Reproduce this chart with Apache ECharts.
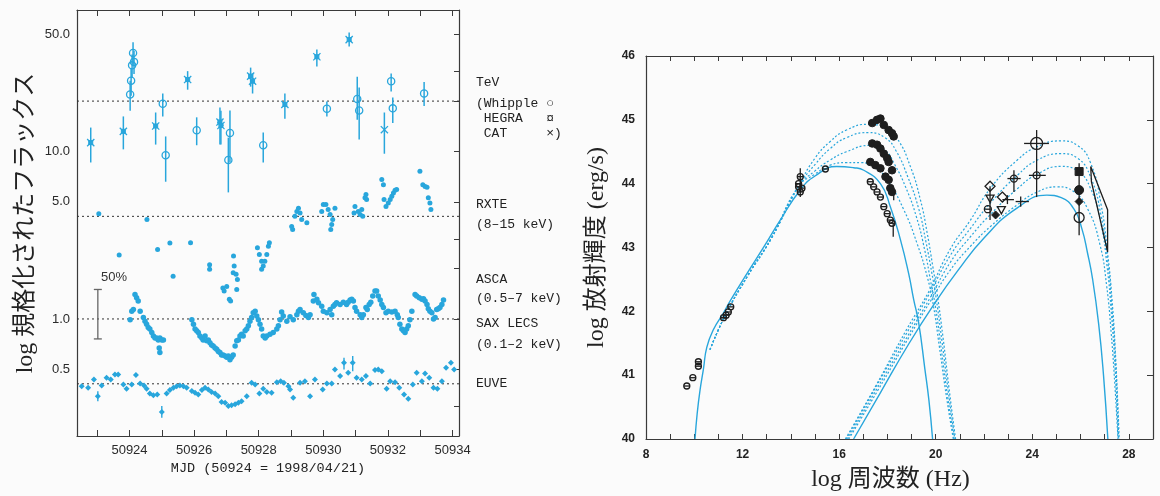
<!DOCTYPE html>
<html>
<head>
<meta charset="utf-8">
<script src="https://cdn.jsdelivr.net/npm/echarts@6.0.0/dist/echarts.min.js"></script>
<style>
  html, body { margin: 0; padding: 0; background: #fbfbfb; }
  #container { width: 1160px; height: 496px; }
</style>
</head>
<body>
<div id="container"></div>
<script>
// ===== left panel: light curves, MJD vs normalized flux (log) =====
var mjdLabels = [50924, 50926, 50928, 50930, 50932, 50934];
var mjdTicks = [50923, 50924, 50925, 50926, 50927, 50928, 50929, 50930, 50931, 50932, 50933, 50934];
var fluxLabels = [0.5, 1, 5, 10, 50];
var fluxTicks = [0.3, 0.5, 1, 2, 3, 5, 10, 20, 30, 50];
var refLevels = [20, 4.1, 1.0, 0.41];

// [MJD, flux, low, high]
var whipple = [
  [50924.02, 21.9, 17.5, 26.5], [50924.05, 26.5, 21.5, 31.5], [50924.08, 32.7, 27.5, 38.0],
  [50924.11, 38.8, 33.0, 45.0], [50924.14, 34.3, 29.0, 40.0], [50925.03, 19.3, 16.2, 22.2],
  [50925.12, 9.5, 6.6, 12.3], [50926.08, 13.4, 10.9, 16.0], [50927.06, 8.9, 5.7, 12.1],
  [50927.11, 12.9, 8.6, 17.6], [50928.14, 10.9, 8.6, 13.0], [50930.11, 18.0, 16.2, 19.9],
  [50931.05, 20.6, 15.5, 28.0], [50931.11, 17.6, 11.8, 24.1], [50932.10, 26.3, 22.8, 29.2],
  [50932.15, 18.1, 14.8, 21.0], [50933.12, 22.2, 18.7, 26.0]
];
var hegra = [
  [50922.80, 11.3, 8.6, 13.9], [50923.81, 13.2, 10.3, 16.2], [50924.81, 14.2, 11.0, 17.1],
  [50925.80, 26.9, 23.4, 30.2], [50926.80, 15.0, 11.0, 18.3], [50926.83, 14.3, 11.0, 17.5],
  [50927.75, 28.2, 24.4, 31.7], [50927.81, 26.3, 22.2, 29.2], [50928.81, 19.1, 15.7, 22.2],
  [50929.80, 36.8, 32.2, 40.6], [50930.80, 46.6, 42.4, 51.3]
];
var cat = [
  [50931.89, 13.5, 9.7, 17.1]
];

// [MJD, flux]
var rxte = [
  [50923.05, 4.25], [50924.54, 3.93], [50923.68, 2.41], [50924.87, 2.60], [50925.25, 2.84],
  [50925.89, 2.85], [50925.35, 1.80], [50926.48, 2.11], [50926.48, 1.98], [50926.89, 1.53],
  [50926.93, 1.47], [50927.01, 1.56], [50927.09, 1.31], [50927.13, 1.28], [50927.21, 1.89],
  [50927.24, 2.07], [50927.22, 2.38], [50927.30, 1.85], [50927.34, 1.72], [50927.32, 1.50],
  [50927.96, 2.66], [50928.02, 2.43], [50928.09, 2.21], [50928.09, 1.98], [50928.14, 2.07],
  [50928.19, 2.21], [50928.25, 2.43], [50928.30, 2.72], [50928.33, 2.85], [50929.05, 3.42],
  [50929.02, 3.57], [50929.12, 4.10], [50929.18, 4.38], [50929.23, 4.58], [50929.28, 4.29],
  [50929.33, 3.93], [50929.49, 3.76], [50929.95, 4.38], [50930.00, 4.82], [50930.08, 4.82],
  [50930.15, 4.50], [50930.21, 4.20], [50930.29, 3.93], [50930.26, 3.67], [50930.23, 3.42],
  [50930.36, 4.58], [50930.98, 4.69], [50930.95, 4.29], [50931.08, 4.38], [50931.14, 4.20],
  [50931.22, 4.10], [50931.19, 4.50], [50931.29, 5.29], [50931.32, 5.53], [50931.34, 5.17],
  [50931.81, 6.80], [50931.86, 6.33], [50931.88, 5.17], [50931.94, 4.69], [50932.01, 4.93],
  [50932.07, 5.17], [50932.12, 5.41], [50932.17, 5.66], [50932.22, 5.87], [50932.27, 5.93],
  [50932.99, 7.63], [50933.08, 6.33], [50933.15, 6.18], [50933.21, 6.12], [50933.25, 5.29],
  [50933.30, 4.93], [50933.33, 4.50]
];
var asca = [
  [50924.02, 0.99], [50924.07, 1.11], [50924.12, 1.14], [50924.17, 1.40], [50924.22, 1.34],
  [50924.27, 1.28], [50924.33, 1.11], [50924.43, 1.02], [50924.48, 0.97], [50924.53, 0.93],
  [50924.58, 0.89], [50924.63, 0.87], [50924.69, 0.83], [50924.74, 0.79], [50924.79, 0.77],
  [50924.84, 0.77], [50924.89, 0.75], [50924.94, 0.77], [50925.00, 0.75], [50925.05, 0.75],
  [50925.93, 0.99], [50925.98, 0.93], [50926.03, 0.87], [50926.08, 0.85], [50926.13, 0.83],
  [50926.18, 0.79], [50926.24, 0.77], [50926.28, 0.75], [50926.34, 0.79], [50926.39, 0.74],
  [50926.44, 0.75], [50926.49, 0.72], [50926.54, 0.70], [50926.59, 0.69], [50926.65, 0.67],
  [50926.70, 0.66], [50926.75, 0.64], [50926.80, 0.63], [50926.85, 0.61], [50926.90, 0.61],
  [50926.96, 0.60], [50927.01, 0.59], [50927.06, 0.60], [50927.11, 0.57], [50927.16, 0.59],
  [50927.21, 0.61], [50927.27, 0.69], [50927.32, 0.74], [50927.37, 0.75], [50927.42, 0.79],
  [50927.47, 0.81], [50927.52, 0.79], [50927.58, 0.85], [50927.63, 0.87], [50927.68, 0.91],
  [50927.73, 0.97], [50927.78, 1.02], [50927.83, 1.09], [50927.89, 1.11], [50927.94, 1.04],
  [50927.99, 0.99], [50928.04, 0.93], [50928.09, 0.87], [50928.14, 0.79], [50928.20, 0.77],
  [50928.25, 0.79], [50928.35, 0.81], [50928.45, 0.83], [50928.56, 0.87], [50928.61, 0.91],
  [50928.66, 0.99], [50928.71, 1.10], [50928.76, 1.04], [50928.87, 0.97], [50928.97, 1.03],
  [50929.07, 0.99], [50929.18, 1.06], [50929.23, 1.11], [50929.28, 1.14], [50929.38, 1.09],
  [50929.46, 1.05], [50929.54, 1.02], [50929.59, 1.06], [50929.69, 1.28], [50929.71, 1.40],
  [50929.80, 1.31], [50929.85, 1.25], [50929.95, 1.19], [50930.00, 1.11], [50930.11, 1.09],
  [50930.21, 1.14], [50930.26, 1.06], [50930.31, 1.19], [50930.36, 1.22], [50930.41, 1.25],
  [50930.52, 1.22], [50930.62, 1.26], [50930.72, 1.22], [50930.77, 1.26], [50930.83, 1.30],
  [50930.88, 1.31], [50930.93, 1.28], [50930.98, 1.17], [50931.03, 1.11], [50931.14, 1.06],
  [50931.19, 1.02], [50931.24, 1.06], [50931.32, 1.17], [50931.36, 1.14], [50931.42, 1.22],
  [50931.47, 1.26], [50931.53, 1.37], [50931.60, 1.47], [50931.65, 1.47], [50931.70, 1.37],
  [50931.76, 1.30], [50931.81, 1.22], [50931.86, 1.17], [50931.94, 1.09], [50932.01, 1.11],
  [50932.12, 1.10], [50932.22, 1.11], [50932.29, 1.06], [50932.32, 1.02], [50932.84, 1.40],
  [50932.89, 1.37], [50932.97, 1.34], [50933.05, 1.31], [50933.10, 1.32], [50933.15, 1.28],
  [50933.21, 1.22], [50933.25, 1.15], [50933.30, 1.11], [50933.36, 1.09], [50933.41, 1.00],
  [50933.46, 1.02], [50933.51, 1.14], [50933.56, 1.15], [50933.61, 1.17], [50933.67, 1.22],
  [50933.72, 1.30]
];
var saxLecs = [
  [50924.92, 0.67], [50924.94, 0.63], [50932.37, 0.93], [50932.43, 0.87], [50932.48, 0.85],
  [50932.53, 0.83], [50932.58, 0.87], [50932.63, 0.91], [50932.68, 0.99], [50932.74, 1.11]
];
var euve = [
  [50922.52, 0.397], [50922.72, 0.388], [50922.90, 0.435], [50923.02, 0.346], [50923.14, 0.401],
  [50923.29, 0.446], [50923.42, 0.435], [50923.55, 0.466], [50923.65, 0.466], [50923.81, 0.406],
  [50923.91, 0.383], [50924.07, 0.406], [50924.20, 0.462], [50924.33, 0.412], [50924.45, 0.401],
  [50924.53, 0.383], [50924.63, 0.359], [50924.74, 0.350], [50924.86, 0.354], [50925.00, 0.278],
  [50925.15, 0.359], [50925.25, 0.376], [50925.36, 0.388], [50925.46, 0.397], [50925.56, 0.401],
  [50925.67, 0.397], [50925.77, 0.388], [50925.93, 0.371], [50926.03, 0.363], [50926.13, 0.354],
  [50926.24, 0.376], [50926.34, 0.388], [50926.44, 0.379], [50926.54, 0.366], [50926.65, 0.359],
  [50926.75, 0.346], [50926.85, 0.319], [50926.96, 0.316], [50927.06, 0.302], [50927.16, 0.305],
  [50927.27, 0.309], [50927.37, 0.316], [50927.47, 0.323], [50927.63, 0.346], [50927.78, 0.416],
  [50927.89, 0.406], [50928.02, 0.359], [50928.14, 0.383], [50928.25, 0.366], [50928.40, 0.363],
  [50928.56, 0.419], [50928.68, 0.425], [50928.78, 0.416], [50928.92, 0.397], [50928.97, 0.379],
  [50929.07, 0.339], [50929.28, 0.416], [50929.43, 0.425], [50929.59, 0.346], [50929.74, 0.435],
  [50929.98, 0.379], [50930.11, 0.412], [50930.26, 0.412], [50930.36, 0.499], [50930.52, 0.456],
  [50930.64, 0.548], [50930.77, 0.477], [50930.91, 0.548], [50931.03, 0.446], [50931.19, 0.435],
  [50931.32, 0.456], [50931.45, 0.412], [50931.60, 0.495], [50931.70, 0.499], [50931.81, 0.488],
  [50931.96, 0.383], [50932.07, 0.425], [50932.22, 0.419], [50932.35, 0.388], [50932.50, 0.354],
  [50932.63, 0.334], [50932.77, 0.406], [50932.89, 0.477], [50933.05, 0.425], [50933.15, 0.473],
  [50933.28, 0.446], [50933.41, 0.388], [50933.53, 0.383], [50933.67, 0.425], [50933.80, 0.511],
  [50933.95, 0.548], [50934.05, 0.499]
];
// [MJD, low, high]
var euveErr = [
  [50923.02, 0.323, 0.370], [50925.00, 0.257, 0.302], [50930.64, 0.499, 0.587], [50930.91, 0.488, 0.600]
];
var scaleBar = [[50923.02, 0.76, 1.50]];

// ===== right panel: SED, log nu vs log L =====
var nuLabels = [8, 12, 16, 20, 24, 28];
var nuTicks = [8, 9, 10, 11, 12, 13, 14, 15, 16, 17, 18, 19, 20, 21, 22, 23, 24, 25, 26, 27, 28];

var syncSolid = [
  [10.03, 40.0], [10.12, 40.4], [10.24, 40.77], [10.38, 41.1], [10.52, 41.44], [10.8, 41.72],
  [11.2, 41.97], [11.5, 42.17], [12.18, 42.59], [12.9, 43.02], [13.56, 43.43], [14.39, 43.9],
  [15.0, 44.12], [15.9, 44.27], [16.6, 44.25], [17.02, 44.21], [17.71, 44.0], [18.12, 43.64],
  [18.54, 43.12], [18.88, 42.59], [19.09, 42.18], [19.29, 41.83], [19.55, 41.1], [19.72, 40.6],
  [19.87, 40.0]
];
var syncDot1 = [
  [10.65, 41.4], [11.3, 41.95], [12.2, 42.55], [13.2, 43.15], [14.3, 43.95], [15.0, 44.4],
  [15.63, 44.66], [16.3, 44.84], [17.2, 44.93], [17.9, 44.88], [18.4, 44.71], [18.95, 44.27],
  [19.37, 43.74], [19.65, 43.22], [19.88, 42.7], [20.05, 42.3], [20.3, 41.6], [20.55, 40.8], [20.82, 40.0]
];
var syncDot2 = [
  [10.65, 41.4], [11.3, 41.95], [12.2, 42.55], [13.2, 43.15], [14.3, 43.95], [15.0, 44.3],
  [15.63, 44.55], [16.3, 44.72], [17.2, 44.8], [17.9, 44.72], [18.35, 44.52], [18.85, 44.1],
  [19.3, 43.6], [19.6, 43.08], [19.84, 42.6], [20.02, 42.2], [20.27, 41.5], [20.52, 40.75], [20.79, 40.0]
];
var syncDot3 = [
  [10.65, 41.4], [11.3, 41.95], [12.2, 42.55], [13.2, 43.15], [14.3, 43.95], [15.0, 44.2],
  [15.63, 44.37], [16.3, 44.5], [17.3, 44.6], [17.9, 44.52], [18.3, 44.3], [18.75, 43.95],
  [19.2, 43.48], [19.55, 42.95], [19.8, 42.45], [20.0, 42.05], [20.25, 41.35], [20.5, 40.65], [20.76, 40.0]
];
var syncDot4 = [
  [10.65, 41.4], [11.3, 41.95], [12.2, 42.55], [13.2, 43.15], [14.3, 43.95], [15.0, 44.15],
  [15.63, 44.29], [16.3, 44.33], [16.9, 44.33], [17.5, 44.25], [17.99, 44.06], [18.68, 43.59],
  [19.23, 43.06], [19.65, 42.54], [19.9, 42.1], [20.15, 41.45], [20.45, 40.65], [20.73, 40.0]
];
var icSolid = [
  [16.6, 40.0], [17.7, 40.72], [18.9, 41.5], [20.0, 42.15], [20.9, 42.63], [22.0, 43.15],
  [23.38, 43.62], [24.6, 43.82], [25.2, 43.78], [25.73, 43.6], [26.05, 43.3], [26.29, 42.91],
  [26.5, 42.5], [26.75, 41.8], [26.95, 41.0], [27.13, 40.0]
];
var icDot1 = [
  [16.26, 40.0], [17.5, 40.82], [18.8, 41.72], [19.7, 42.3], [20.61, 42.98], [21.44, 43.43],
  [22.27, 43.93], [23.38, 44.37], [24.21, 44.58], [25.18, 44.67], [25.87, 44.6], [26.42, 44.32],
  [26.84, 43.69], [27.12, 42.91], [27.3, 42.2], [27.45, 41.3], [27.6, 40.0]
];
var icDot2 = [
  [16.3, 40.0], [17.5, 40.8], [18.8, 41.66], [19.7, 42.25], [20.61, 42.88], [21.44, 43.3],
  [22.27, 43.7], [23.38, 44.13], [24.21, 44.37], [25.18, 44.47], [25.87, 44.4], [26.42, 44.1],
  [26.84, 43.52], [27.12, 42.8], [27.3, 42.05], [27.45, 41.2], [27.58, 40.0]
];
var icDot3 = [
  [16.35, 40.0], [17.55, 40.78], [18.85, 41.62], [19.75, 42.2], [20.61, 42.77], [21.44, 43.17],
  [22.27, 43.52], [23.38, 43.92], [24.21, 44.15], [25.18, 44.27], [25.87, 44.2], [26.42, 43.92],
  [26.84, 43.38], [27.1, 42.7], [27.28, 41.95], [27.43, 41.1], [27.56, 40.0]
];
var icDot4 = [
  [16.4, 40.0], [17.6, 40.76], [18.9, 41.6], [19.8, 42.17], [20.61, 42.65], [21.44, 43.02],
  [22.27, 43.33], [23.38, 43.67], [24.21, 43.87], [25.04, 43.95], [25.7, 43.88], [26.3, 43.6],
  [26.8, 43.05], [27.08, 42.4], [27.27, 41.65], [27.42, 40.85], [27.55, 40.0]
];

// observed points [log nu, log L]
var lowNuPts = [
  [9.69, 40.83], [9.94, 40.96], [10.17, 41.21], [10.17, 41.14], [11.21, 41.90], [11.32, 41.94],
  [11.41, 41.99], [11.51, 42.07], [14.32, 44.00], [14.39, 44.11], [14.32, 43.95], [14.46, 43.93],
  [14.39, 43.87], [15.43, 44.23]
];
var xrayFilled = [
  [17.37, 44.95], [17.57, 45.00], [17.71, 45.02], [17.85, 44.92], [18.05, 44.84], [18.19, 44.79], [18.26, 44.74],
  [17.37, 44.63], [17.57, 44.61], [17.71, 44.55], [17.85, 44.47], [17.99, 44.40], [18.05, 44.34], [18.19, 44.21],
  [17.29, 44.34], [17.50, 44.29], [17.71, 44.24], [17.92, 44.11], [18.05, 44.06], [18.12, 43.93], [18.19, 43.87]
];
var xrayOpen = [
  [17.29, 44.03], [17.43, 43.95], [17.57, 43.87], [17.71, 43.79], [17.85, 43.64], [17.99, 43.53],
  [18.12, 43.43], [18.19, 43.38]
];
var gevDiamondOpen = [[22.25, 43.96], [22.76, 43.79]];
var gevTriangleOpen = [[22.25, 43.77], [22.72, 43.59]];
var gevCircleOpen = [[22.16, 43.60], [23.24, 44.08], [24.18, 44.13]];
var gevCircleBig = [[24.18, 44.63]];
var gevDiamondFilled = [[22.48, 43.51], [25.94, 43.72]];
var tevSquare = [[25.94, 44.19]];
var tevCircleFilled = [[25.94, 43.90]];
var tevCircleOpen = [[25.94, 43.47]];
// [log nu, log L, nuLow, nuHigh, LLow, LHigh]
var sedErr = [
  [11.21, 41.90, 11.08, 11.34, 41.90, 41.90],
  [14.39, 44.00, 14.39, 14.39, 43.79, 44.24],
  [18.26, 43.84, 18.26, 18.26, 43.74, 43.93],
  [18.24, 43.27, 18.24, 18.24, 43.17, 43.38],
  [22.25, 43.70, 22.25, 22.25, 43.43, 43.96],
  [22.16, 43.60, 22.05, 22.27, 43.60, 43.60],
  [22.97, 43.75, 22.76, 23.24, 43.68, 43.82],
  [23.24, 44.08, 22.97, 23.52, 43.87, 44.21],
  [23.52, 43.72, 23.31, 23.86, 43.64, 43.80],
  [24.18, 44.63, 23.66, 24.69, 43.79, 44.84],
  [24.18, 44.13, 23.86, 24.56, 44.13, 44.13],
  [25.94, 43.75, 25.94, 25.94, 43.19, 44.32]
];
var bowTie = [[26.42, 44.27], [27.12, 43.59], [27.12, 42.93], [26.45, 44.03], [26.42, 44.27]];

// ===== drawing =====
var CYAN = '#28a6dc';
var INK = '#1e1e1e';
var AXIS = '#3a3a3a';

function lg(v) { return Math.log10(v); }

function mark(kind, cx, cy, r, color) {
  var open = { stroke: color, fill: 'none', lineWidth: 1.3 };
  var full = { stroke: color, fill: color, lineWidth: 1 };
  if (kind === 'circle') return [{ type: 'circle', shape: { cx: cx, cy: cy, r: r }, style: open }];
  if (kind === 'dot') return [{ type: 'circle', shape: { cx: cx, cy: cy, r: r }, style: full }];
  if (kind === 'theta') return [
    { type: 'circle', shape: { cx: cx, cy: cy, r: r }, style: open },
    { type: 'line', shape: { x1: cx - r, y1: cy, x2: cx + r, y2: cy }, style: open }
  ];
  if (kind === 'x') return [
    { type: 'line', shape: { x1: cx - r, y1: cy - r, x2: cx + r, y2: cy + r }, style: open },
    { type: 'line', shape: { x1: cx - r, y1: cy + r, x2: cx + r, y2: cy - r }, style: open }
  ];
  if (kind === 'hegra') return [
    { type: 'line', shape: { x1: cx - r, y1: cy - r, x2: cx + r, y2: cy + r }, style: open },
    { type: 'line', shape: { x1: cx - r, y1: cy + r, x2: cx + r, y2: cy - r }, style: open },
    { type: 'rect', shape: { x: cx - 2, y: cy - 2, width: 4, height: 4 }, style: full }
  ];
  if (kind === 'diamond' || kind === 'diamondFill') return [
    { type: 'polygon', shape: { points: [[cx, cy - r], [cx + r, cy], [cx, cy + r], [cx - r, cy]] },
      style: kind === 'diamond' ? open : full }
  ];
  if (kind === 'square') return [{ type: 'rect', shape: { x: cx - r, y: cy - r, width: 2 * r, height: 2 * r }, style: full }];
  if (kind === 'tri') return [
    { type: 'polygon', shape: { points: [[cx - r, cy - r * 0.8], [cx + r, cy - r * 0.8], [cx, cy + r]] }, style: open }
  ];
  return [];
}

function markerSeries(rows, kind, r, color, axis) {
  return {
    type: 'custom', xAxisIndex: axis, yAxisIndex: axis, silent: true, clip: false, z: 5,
    data: rows,
    renderItem: function (params, api) {
      var p = api.coord([api.value(0), api.value(1)]);
      return { type: 'group', children: mark(kind, p[0], p[1], r, color) };
    }
  };
}

function tevSeries(rows, kind) {
  return {
    type: 'custom', xAxisIndex: 0, yAxisIndex: 0, silent: true, clip: false, z: 5,
    data: rows.map(function (d) { return [d[0], lg(d[1]), lg(d[2]), lg(d[3])]; }),
    renderItem: function (params, api) {
      var x = api.value(0);
      var p = api.coord([x, api.value(1)]);
      var a = api.coord([x, api.value(2)]);
      var b = api.coord([x, api.value(3)]);
      var bar = { type: 'line', shape: { x1: p[0], y1: a[1], x2: p[0], y2: b[1] }, style: { stroke: CYAN, lineWidth: 1.5 } };
      return { type: 'group', children: [bar].concat(mark(kind, p[0], p[1], 3.6, CYAN)) };
    }
  };
}

function dotSeries(rows, symbol, size) {
  return {
    type: 'scatter', xAxisIndex: 0, yAxisIndex: 0, silent: true, symbol: symbol, symbolSize: size,
    itemStyle: { color: CYAN, opacity: 1 },
    data: rows.map(function (d) { return [d[0], lg(d[1])]; })
  };
}

function curve(pts, dotted) {
  return {
    type: 'line', xAxisIndex: 2, yAxisIndex: 2, data: pts, showSymbol: false, silent: true,
    smooth: 0.5, z: 2,
    lineStyle: { color: CYAN, width: dotted ? 1.2 : 1.4, type: dotted ? [2, 2] : 'solid' }
  };
}

function boxLine() {
  return { show: true, onZero: false, lineStyle: { color: AXIS, width: 1.2 } };
}

var labelFont = { color: '#2a2a2a', fontFamily: 'Liberation Sans', fontSize: 13 };
var sedFont = { color: '#222', fontFamily: 'Liberation Sans', fontSize: 12, fontWeight: 'bold' };
var titleFont = { fontFamily: '"Liberation Serif", "Noto Sans CJK JP"', fontSize: 24, color: '#222' };

var series = [];

// reference levels (dotted)
series.push({
  type: 'custom', xAxisIndex: 0, yAxisIndex: 0, silent: true, z: 1,
  data: refLevels.map(function (v) { return [50928, lg(v)]; }),
  renderItem: function (params, api) {
    var y = api.coord([api.value(0), api.value(1)])[1];
    var cs = params.coordSys;
    return { type: 'line', shape: { x1: cs.x, y1: y, x2: cs.x + cs.width, y2: y },
      style: { stroke: '#333', lineWidth: 1, lineDash: [2, 3] } };
  }
});
// 50% scale bar
series.push({
  type: 'custom', xAxisIndex: 0, yAxisIndex: 0, silent: true,
  data: scaleBar.map(function (d) { return [d[0], lg(d[1]), lg(d[2])]; }),
  renderItem: function (params, api) {
    var a = api.coord([api.value(0), api.value(1)]);
    var b = api.coord([api.value(0), api.value(2)]);
    var s = { stroke: '#666', lineWidth: 1.3 };
    return { type: 'group', children: [
      { type: 'line', shape: { x1: a[0], y1: a[1], x2: b[0], y2: b[1] }, style: s },
      { type: 'line', shape: { x1: a[0] - 4, y1: a[1], x2: a[0] + 4, y2: a[1] }, style: s },
      { type: 'line', shape: { x1: b[0] - 4, y1: b[1], x2: b[0] + 4, y2: b[1] }, style: s }
    ] };
  }
});
// EUVE error bars
series.push({
  type: 'custom', xAxisIndex: 0, yAxisIndex: 0, silent: true,
  data: euveErr.map(function (d) { return [d[0], lg(d[1]), lg(d[2])]; }),
  renderItem: function (params, api) {
    var a = api.coord([api.value(0), api.value(1)]);
    var b = api.coord([api.value(0), api.value(2)]);
    return { type: 'line', shape: { x1: a[0], y1: a[1], x2: b[0], y2: b[1] }, style: { stroke: CYAN, lineWidth: 1.4 } };
  }
});
series.push(tevSeries(whipple, 'circle'));
series.push(tevSeries(hegra, 'hegra'));
series.push(tevSeries(cat, 'x'));
series.push(dotSeries(rxte, 'circle', 5));
series.push(dotSeries(asca, 'circle', 5.5));
series.push(dotSeries(saxLecs, 'circle', 5.5));
series.push(dotSeries(euve, 'diamond', 6));

// SED curves
series.push(curve(syncSolid, false));
[syncDot1, syncDot2, syncDot3, syncDot4].forEach(function (c) { series.push(curve(c, true)); });
series.push(curve(icSolid, false));
[icDot1, icDot2, icDot3, icDot4].forEach(function (c) { series.push(curve(c, true)); });

// SED error bars
series.push({
  type: 'custom', xAxisIndex: 2, yAxisIndex: 2, silent: true, clip: false, z: 4,
  data: sedErr,
  renderItem: function (params, api) {
    var x = api.value(0), y = api.value(1);
    var h1 = api.coord([api.value(2), y]), h2 = api.coord([api.value(3), y]);
    var v1 = api.coord([x, api.value(4)]), v2 = api.coord([x, api.value(5)]);
    var s = { stroke: INK, lineWidth: 1.3 };
    return { type: 'group', children: [
      { type: 'line', shape: { x1: h1[0], y1: h1[1], x2: h2[0], y2: h2[1] }, style: s },
      { type: 'line', shape: { x1: v1[0], y1: v1[1], x2: v2[0], y2: v2[1] }, style: s }
    ] };
  }
});
series.push({
  type: 'line', xAxisIndex: 2, yAxisIndex: 2, data: bowTie, showSymbol: false, silent: true, z: 4,
  lineStyle: { color: INK, width: 1.3 }
});
series.push(markerSeries(lowNuPts, 'theta', 3, INK, 2));
series.push(markerSeries(xrayFilled, 'dot', 3.8, INK, 2));
series.push(markerSeries(xrayOpen, 'theta', 3, INK, 2));
series.push(markerSeries(gevDiamondOpen, 'diamond', 5, INK, 2));
series.push(markerSeries(gevTriangleOpen, 'tri', 4, INK, 2));
series.push(markerSeries(gevCircleOpen, 'circle', 3.5, INK, 2));
series.push(markerSeries(gevCircleBig, 'circle', 6, INK, 2));
series.push(markerSeries(gevDiamondFilled, 'diamondFill', 4, INK, 2));
series.push(markerSeries(tevSquare, 'square', 4, INK, 2));
series.push(markerSeries(tevCircleFilled, 'dot', 4.5, INK, 2));
series.push(markerSeries(tevCircleOpen, 'circle', 5, INK, 2));

// side annotations of the left panel
var annoText = ['TeV', '(Whipple ○', ' HEGRA   ¤', ' CAT     ×)', 'RXTE', '(8–15 keV)',
  'ASCA', '(0.5–7 keV)', 'SAX LECS', '(0.1–2 keV)', 'EUVE'];
var annoY = [83, 104, 119, 134, 205, 225, 280, 299, 324, 345, 384];
var graphics = annoText.map(function (t, i) {
  return { type: 'text', x: 476, y: annoY[i], silent: true,
    style: { text: t, fill: '#222', font: '13px "Liberation Mono", monospace', verticalAlign: 'middle' } };
});
graphics.push({ type: 'text', x: 101, y: 277, silent: true,
  style: { text: '50%', fill: '#333', font: '13px "Liberation Sans", sans-serif', verticalAlign: 'middle' } });

var dom = document.getElementById('container');
var myChart = echarts.init(dom, null, { renderer: 'canvas' });

var option = {
  animation: false,
  backgroundColor: '#fbfbfb',
  grid: [
    { left: 77, top: 10, width: 382, height: 426, containLabel: false, outerBoundsMode: 'none' },
    { left: 646, top: 56, width: 507, height: 383, containLabel: false, outerBoundsMode: 'none' }
  ],
  xAxis: [
    { gridIndex: 0, type: 'value', position: 'bottom', min: 50922.375, max: 50934.2,
      axisLine: boxLine(),
      axisTick: { show: true, inside: true, length: 6, customValues: mjdTicks, lineStyle: { color: AXIS } },
      axisLabel: Object.assign({ customValues: mjdLabels, margin: 8, formatter: function (v) { return String(v); } }, labelFont),
      splitLine: { show: false },
      name: 'MJD (50924 = 1998/04/21)', nameLocation: 'middle', nameGap: 25,
      nameTextStyle: { fontFamily: 'Liberation Mono', fontSize: 13.5, color: '#222' } },
    { gridIndex: 0, type: 'value', position: 'top', min: 50922.375, max: 50934.2,
      axisLine: boxLine(),
      axisTick: { show: true, inside: true, length: 6, customValues: mjdTicks, lineStyle: { color: AXIS } },
      axisLabel: { show: false }, splitLine: { show: false } },
    { gridIndex: 1, type: 'value', position: 'bottom', min: 8, max: 29,
      axisLine: boxLine(),
      axisTick: { show: true, inside: true, length: 5, customValues: nuTicks, lineStyle: { color: AXIS } },
      axisLabel: Object.assign({ customValues: nuLabels, margin: 10 }, sedFont),
      splitLine: { show: false },
      name: 'log 周波数 (Hz)', nameLocation: 'middle', nameGap: 29,
      nameTextStyle: Object.assign({ padding: [0, 18, 0, 0] }, titleFont) },
    { gridIndex: 1, type: 'value', position: 'top', min: 8, max: 29,
      axisLine: boxLine(),
      axisTick: { show: true, inside: true, length: 5, customValues: nuTicks, lineStyle: { color: AXIS } },
      axisLabel: { show: false }, splitLine: { show: false } }
  ],
  yAxis: [
    { gridIndex: 0, type: 'value', position: 'left', min: lg(0.2), max: lg(70),
      axisLine: boxLine(),
      axisTick: { show: false },
      axisLabel: Object.assign({ customValues: fluxLabels.map(lg), margin: 7,
        formatter: function (v) { return Math.pow(10, v).toFixed(1); } }, labelFont),
      splitLine: { show: false },
      name: 'log 規格化されたフラックス', nameLocation: 'middle', nameRotate: 90, nameGap: 39,
      nameTextStyle: titleFont },
    { gridIndex: 0, type: 'value', position: 'right', min: lg(0.2), max: lg(70),
      axisLine: boxLine(),
      axisTick: { show: true, inside: true, length: 5, customValues: fluxTicks.map(lg), lineStyle: { color: AXIS } },
      axisLabel: { show: false }, splitLine: { show: false } },
    { gridIndex: 1, type: 'value', position: 'left', min: 40, max: 46, interval: 1,
      axisLine: boxLine(),
      axisTick: { show: false },
      axisLabel: Object.assign({ margin: 11 }, sedFont),
      splitLine: { show: false },
      name: 'log 放射輝度 (erg/s)', nameLocation: 'middle', nameRotate: 90, nameGap: 37,
      nameTextStyle: titleFont },
    { gridIndex: 1, type: 'value', position: 'right', min: 40, max: 46, interval: 1,
      axisLine: boxLine(),
      axisTick: { show: true, inside: true, length: 6, lineStyle: { color: AXIS } },
      axisLabel: { show: false }, splitLine: { show: false } }
  ],
  graphic: graphics,
  series: series
};

myChart.setOption(option);
window.addEventListener('resize', myChart.resize);
</script>
</body>
</html>
